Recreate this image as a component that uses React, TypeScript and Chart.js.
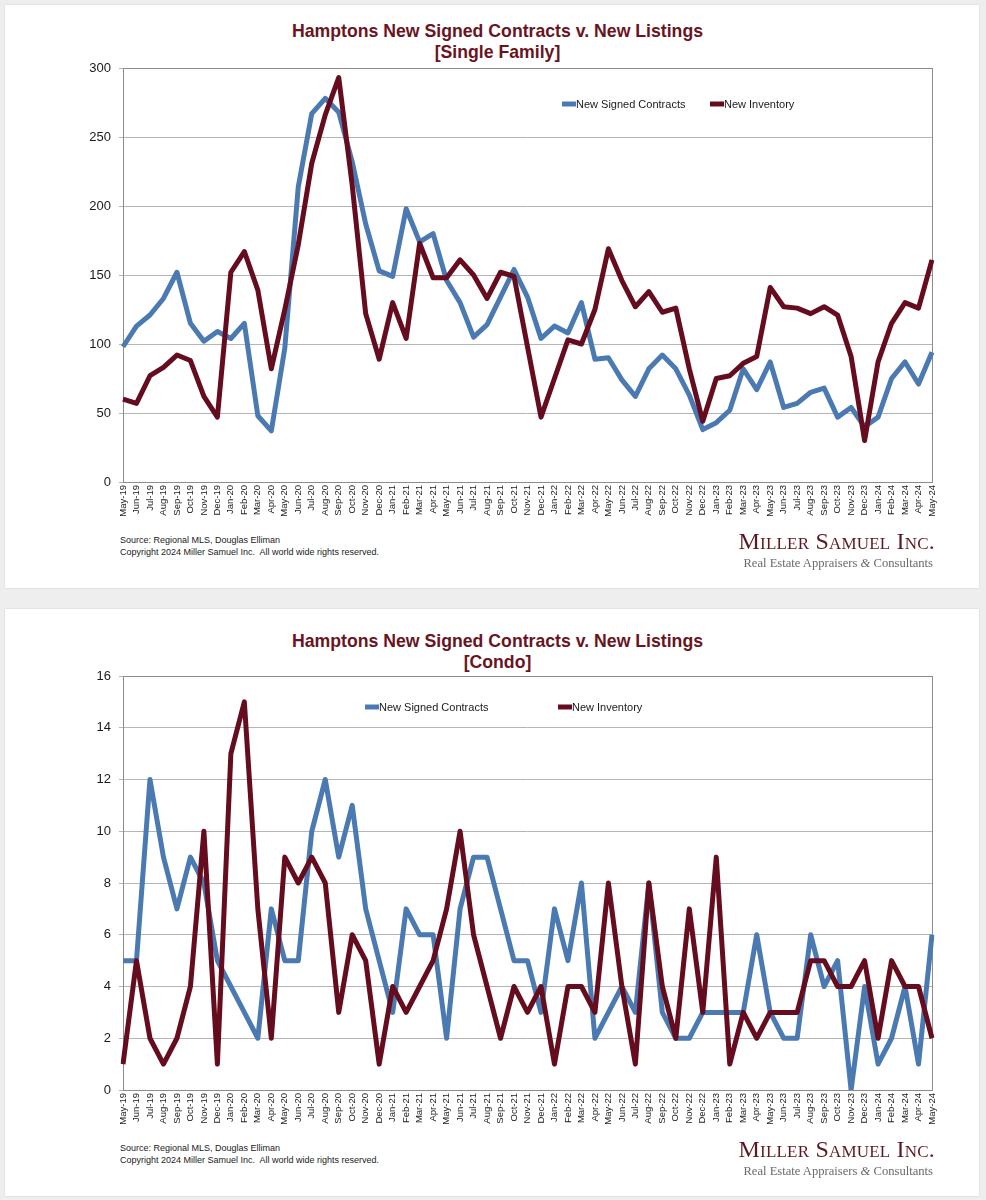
import React, { useEffect, useRef } from "react";
import { Chart, registerables } from "chart.js";

Chart.register(...registerables);

// ---------- data ----------
const months = [
  "May-19", "Jun-19", "Jul-19", "Aug-19", "Sep-19", "Oct-19", "Nov-19", "Dec-19",
  "Jan-20", "Feb-20", "Mar-20", "Apr-20", "May-20", "Jun-20", "Jul-20", "Aug-20", "Sep-20", "Oct-20", "Nov-20", "Dec-20",
  "Jan-21", "Feb-21", "Mar-21", "Apr-21", "May-21", "Jun-21", "Jul-21", "Aug-21", "Sep-21", "Oct-21", "Nov-21", "Dec-21",
  "Jan-22", "Feb-22", "Mar-22", "Apr-22", "May-22", "Jun-22", "Jul-22", "Aug-22", "Sep-22", "Oct-22", "Nov-22", "Dec-22",
  "Jan-23", "Feb-23", "Mar-23", "Apr-23", "May-23", "Jun-23", "Jul-23", "Aug-23", "Sep-23", "Oct-23", "Nov-23", "Dec-23",
  "Jan-24", "Feb-24", "Mar-24", "Apr-24", "May-24",
];

const singleFamilyContracts = [
  98, 113, 121, 133, 152, 115, 102, 109,
  104, 115, 48, 37, 97, 214, 267, 278, 268, 232, 187, 153,
  149, 198, 174, 180, 146, 130, 105, 114, 134, 154, 134, 104,
  113, 108, 130, 89, 90, 74, 62, 82, 92, 82, 63, 38,
  43, 52, 82, 67, 87, 54, 57, 65, 68, 47, 54, 40,
  47, 75, 87, 71, 94,
];

const singleFamilyInventory = [
  60, 57, 77, 83, 92, 88, 62, 47,
  152, 167, 139, 82, 125, 172, 231, 266, 293, 215, 122, 89,
  130, 104, 173, 148, 148, 161, 150, 133, 152, 149, 98, 47,
  75, 103, 100, 125, 169, 146, 127, 138, 123, 126, 82, 44,
  75, 77, 86, 91, 141, 127, 126, 122, 127, 121, 91, 30,
  87, 115, 130, 126, 161,
];

const condoContracts = [
  5, 5, 12, 9, 7, 9, 8, 5,
  4, 3, 2, 7, 5, 5, 10, 12, 9, 11, 7, 5,
  3, 7, 6, 6, 2, 7, 9, 9, 7, 5, 5, 3,
  7, 5, 8, 2, 3, 4, 3, 8, 3, 2, 2, 3,
  3, 3, 3, 6, 3, 2, 2, 6, 4, 5, 0, 4,
  1, 2, 4, 1, 6,
];

const condoInventory = [
  1, 5, 2, 1, 2, 4, 10, 1,
  13, 15, 7, 2, 9, 8, 9, 8, 3, 6, 5, 1,
  4, 3, 4, 5, 7, 10, 6, 4, 2, 4, 3, 4,
  1, 4, 4, 3, 8, 4, 1, 8, 4, 2, 7, 3,
  9, 1, 3, 2, 3, 3, 3, 5, 5, 4, 4, 5,
  2, 5, 4, 4, 2,
];

const seriesLabels = ["New Signed Contracts", "New Inventory"];
const titleMain = "Hamptons New Signed Contracts v. New Listings";
const singleFamilySubtitle = "[Single Family]";
const condoSubtitle = "[Condo]";
const singleFamilyAxis = { max: 300, step: 50 };
const condoAxis = { max: 16, step: 2 };
const sourceText = "Source: Regional MLS, Douglas Elliman";
const copyrightText = "Copyright 2024 Miller Samuel Inc.  All world wide rights reserved.";

// ---------- styles ----------
const SANS = "'Liberation Sans', Arial, sans-serif";
const SERIF = "'Liberation Serif', 'Times New Roman', serif";
const BLUE = "#4a7ab1";
const MAROON = "#650c1e";
const TITLE_COLOR = "#6a1422";

const CANVAS_W = 974;
const CANVAS_H = 525;

const framePlugin = {
  id: "frame",
  beforeDatasetsDraw(chart: any) {
    const { ctx, chartArea: a } = chart;
    ctx.save();
    ctx.strokeStyle = "#8c8c8c";
    ctx.lineWidth = 1;
    ctx.strokeRect(Math.round(a.left) + 0.5, Math.round(a.top) + 0.5, Math.round(a.right - a.left), Math.round(a.bottom - a.top));
    ctx.restore();
  },
};

const inlineLegendPlugin = {
  id: "inlineLegend",
  afterDatasetsDraw(chart: any, _args: any, opts: any) {
    const { ctx, chartArea: a } = chart;
    ctx.save();
    ctx.font = `11px ${SANS}`;
    ctx.textBaseline = "middle";
    ctx.textAlign = "left";
    chart.data.datasets.forEach((ds: any, i: number) => {
      const x = a.left + opts.xs[i];
      const y = a.top + opts.y;
      ctx.strokeStyle = ds.borderColor;
      ctx.lineWidth = 5;
      ctx.lineCap = "butt";
      ctx.beginPath();
      ctx.moveTo(x, y);
      ctx.lineTo(x + 14, y);
      ctx.stroke();
      ctx.fillStyle = "#1a1a1a";
      ctx.fillText(ds.label, x + 14, y + 0.5);
    });
    ctx.restore();
  },
};

type ChartProps = {
  contracts: number[];
  inventory: number[];
  axis: { max: number; step: number };
  legendXs: number[];
  legendY: number;
  areaTop: number;
};

function LineChart({ contracts, inventory, axis, legendXs, legendY, areaTop }: ChartProps) {
  const ref = useRef<HTMLCanvasElement | null>(null);
  useEffect(() => {
    if (!ref.current) return;
    const chart = new Chart(ref.current, {
      type: "line",
      data: {
        labels: months,
        datasets: [
          {
            label: seriesLabels[0],
            data: contracts,
            borderColor: BLUE,
            backgroundColor: BLUE,
            borderWidth: 5,
            borderJoinStyle: "round",
            pointRadius: 0,
            tension: 0,
            order: 1,
          },
          {
            label: seriesLabels[1],
            data: inventory,
            borderColor: MAROON,
            backgroundColor: MAROON,
            borderWidth: 5,
            borderJoinStyle: "round",
            pointRadius: 0,
            tension: 0,
            order: 0,
          },
        ],
      },
      options: {
        animation: false,
        responsive: false,
        layout: { padding: { left: 0, right: 47, top: areaTop, bottom: 0 } },
        plugins: {
          legend: { display: false },
          tooltip: { enabled: false },
          title: { display: false },
          inlineLegend: { xs: legendXs, y: legendY },
        } as any,
        scales: {
          x: {
            type: "category",
            offset: false,
            grid: { display: false, drawTicks: false },
            border: { display: false },
            ticks: {
              autoSkip: false,
              maxRotation: 90,
              minRotation: 90,
              padding: 3,
              color: "#1a1a1a",
              font: { family: SANS, size: 9.5 },
            },
            afterFit: (s: any) => {
              s.height = 48;
            },
          },
          y: {
            min: 0,
            max: axis.max,
            grid: { color: "#b5b5b5", lineWidth: 1, tickLength: 4, drawTicks: true },
            border: { display: false },
            ticks: {
              stepSize: axis.step,
              padding: 8,
              color: "#1a1a1a",
              font: { family: SANS, size: 13 },
            },
            afterFit: (s: any) => {
              s.width = 118;
            },
          },
        },
      },
      plugins: [framePlugin, inlineLegendPlugin],
    });
    return () => chart.destroy();
  }, [contracts, inventory, axis, legendXs, legendY, areaTop]);
  return (
    <canvas
      ref={ref}
      width={CANVAS_W}
      height={CANVAS_H}
      style={{ width: CANVAS_W, height: CANVAS_H, display: "block" }}
    />
  );
}

function Title({ top, subtitle }: { top: number; subtitle: string }) {
  return (
    <div
      style={{
        position: "absolute",
        left: 0,
        top: top,
        width: 995,
        textAlign: "center",
        fontFamily: SANS,
        fontWeight: "bold",
        fontSize: 19,
        lineHeight: "21px",
        color: TITLE_COLOR,
        transform: "scaleX(0.93)",
        transformOrigin: "497.5px 0",
        whiteSpace: "nowrap",
      }}
    >
      <div>{titleMain}</div>
      <div>{subtitle}</div>
    </div>
  );
}

function Footer({ top }: { top: number }) {
  return (
    <>
      <div
        style={{
          position: "absolute",
          left: 120,
          top: top,
          fontFamily: SANS,
          fontSize: 9,
          lineHeight: "12px",
          color: "#1a1a1a",
          whiteSpace: "pre",
        }}
      >
        <div>{sourceText}</div>
        <div>{copyrightText}</div>
      </div>
      <div
        style={{
          position: "absolute",
          left: 700,
          top: top - 7,
          width: 235,
          textAlign: "right",
          whiteSpace: "nowrap",
        }}
      >
        <div
          style={{
            fontFamily: SERIF,
            fontSize: 24,
            lineHeight: "28px",
            fontVariant: "small-caps",
            color: "#5c1822",
            letterSpacing: 0.2,
          }}
        >
          Miller Samuel Inc.
        </div>
        <div
          style={{
            fontFamily: SERIF,
            fontSize: 12.6,
            lineHeight: "16px",
            color: "#6a6a6a",
            marginRight: 2,
          }}
        >
          Real Estate Appraisers <span style={{ fontStyle: "italic" }}>&amp;</span> Consultants
        </div>
      </div>
    </>
  );
}

const sfLegendXs = [439, 587];
const condoLegendXs = [242, 435];

export default function App() {
  return (
    <div
      style={{
        position: "absolute",
        left: 0,
        top: 0,
        width: 986,
        height: 1200,
        background: "#eeeeee",
        overflow: "hidden",
      }}
    >
      <div
        style={{
          position: "absolute",
          left: 5,
          top: 5,
          width: 974,
          height: 583,
          background: "#ffffff",
          boxShadow: "0 0 2px rgba(0,0,0,0.12)",
        }}
      />
      <div
        style={{
          position: "absolute",
          left: 5,
          top: 609,
          width: 974,
          height: 587,
          background: "#ffffff",
          boxShadow: "0 0 2px rgba(0,0,0,0.12)",
        }}
      />
      <Title top={20} subtitle={singleFamilySubtitle} />
      <div style={{ position: "absolute", left: 5, top: 5 }}>
        <LineChart
          contracts={singleFamilyContracts}
          inventory={singleFamilyInventory}
          axis={singleFamilyAxis}
          legendXs={sfLegendXs}
          legendY={36}
          areaTop={63}
        />
      </div>
      <Footer top={534} />
      <Title top={630} subtitle={condoSubtitle} />
      <div style={{ position: "absolute", left: 5, top: 613 }}>
        <LineChart
          contracts={condoContracts}
          inventory={condoInventory}
          axis={condoAxis}
          legendXs={condoLegendXs}
          legendY={31}
          areaTop={63}
        />
      </div>
      <Footer top={1142} />
    </div>
  );
}
